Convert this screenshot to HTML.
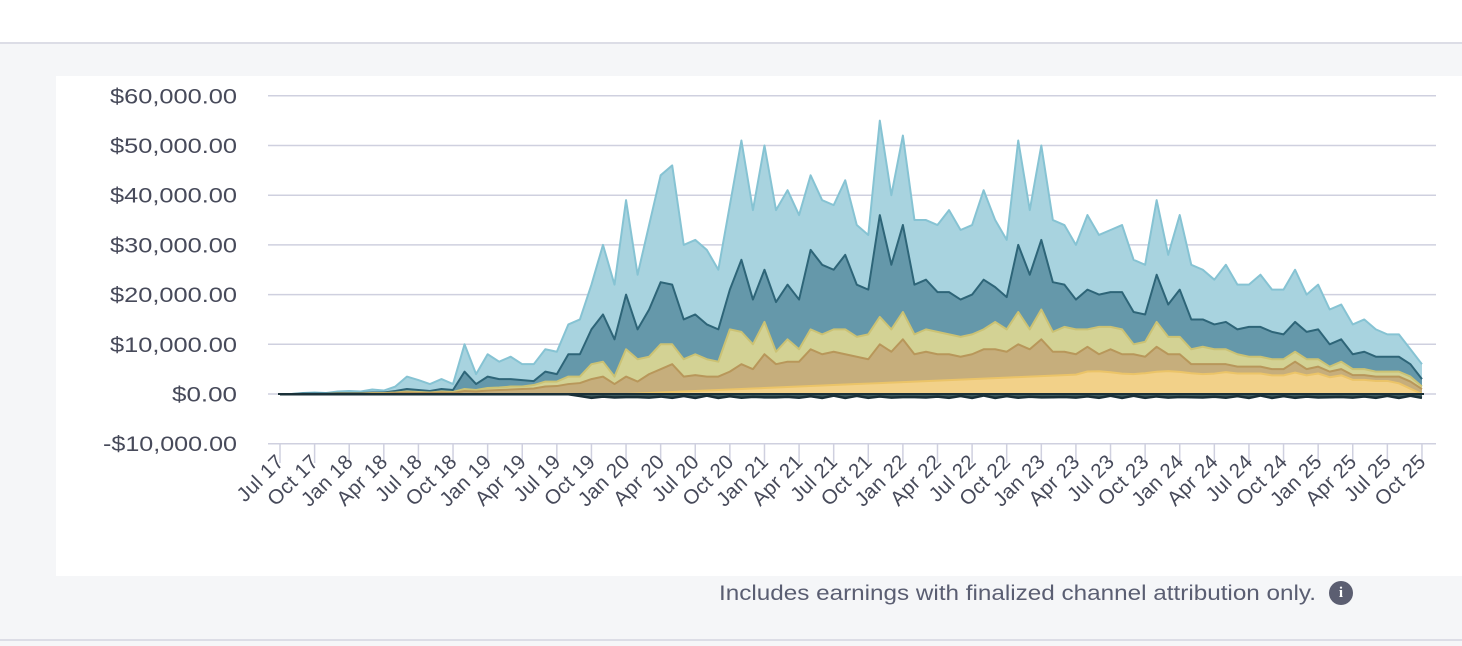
<!DOCTYPE html>
<html><head><meta charset="utf-8"><style>
body{margin:0;width:1462px;height:646px;overflow:hidden;background:#f5f6f8;font-family:"Liberation Sans",sans-serif;position:relative}
#top{position:absolute;left:0;top:0;width:1462px;height:42px;background:#fff;border-bottom:2px solid #dcdde6}
#panel{position:absolute;left:56px;top:76px;width:1406px;height:500px;background:#fff}
#bot{position:absolute;left:0;top:639px;width:1462px;height:2px;background:#dcdde6}
#info{position:absolute;left:1329px;top:581px;width:24px;height:24px;border-radius:50%;background:#5b5e71;color:#fff;font-size:15px;font-weight:bold;text-align:center;line-height:24px;font-family:"Liberation Serif",serif}
svg{position:absolute;left:0;top:0}
</style></head><body>
<div id="top"></div><div id="panel"></div><div id="bot"></div>
<div id="info">i</div>
<svg id="s" width="1462" height="646" xmlns="http://www.w3.org/2000/svg"></svg>
<script>
const T=[0,0,0.2,0.3,0.2,0.5,0.6,0.5,0.9,0.7,1.5,3.5,2.8,2,3,2,10,4,8,6.5,7.5,6,6,9,8.5,14,15,22,30,22,39,24,34,44,46,30,31,29,25,38,51,37,50,37,41,36,44,39,38,43,34,32,55,40,52,35,35,34,37,33,34,41,35,31,51,37,50,35,34,30,36,32,33,34,27,26,39,28,36,26,25,23,26,22,22,24,21,21,25,20,22,17,18,14,15,13,12,12,9,6];
const D=[0,0,0.1,0.1,0.1,0.2,0.2,0.2,0.3,0.3,0.6,1,0.8,0.6,1,0.8,4.5,2,3.5,3,3,2.8,2.6,4.5,4,8,8,13,16,11,20,13,17,22.5,22,15,16,14,13,21,27,19,25,18.5,22,19,29,26,25,28,22,21,36,26,34,22,23,20.5,20.5,19,20,23,21.5,19.5,30,24,31,22.5,22,19,21,20,20.5,20.5,16.5,16,24,18,21,15,15,14,14.5,13,13.5,13.5,12.5,12,14.5,12.5,13,10,11,8,8.5,7.5,7.5,7.5,6,3];
const Kman=[0,0,0,0,0,0.1,0.1,0.1,0.2,0.2,0.3,0.5,0.4,0.3,0.5,0.4,1,0.8,1.2,1.3,1.5,1.5,1.8,2.5,2.5,3.5,3.5,6,6.5,3.5,9,7,7.5,10,10,7,8,7,6.5,13,12.5,10,14.5,8.5,11,9,13,12,13,13,11.5,12,15.5,13,16.5,12,13,12.5,12,11.5,12,13,14.5,13,16.5,13,17,12.5,13.5,13,13,13.5,13.5,13,10,10.5,14.5,11.5,11.5,9,9.5,9,9,8,7.5,7.5,7,7,8.5,7,7,5.5,6.5,5,5,4.5,4.5,4.5,3.5,1.5];
const N=[0,0,0,0,0,0.05,0.05,0.05,0.1,0.1,0.2,0.3,0.2,0.2,0.3,0.2,0.6,0.5,0.7,0.8,0.9,1,1.1,1.5,1.6,2,2.2,3,3.5,2,3.5,2.5,4,5,6,3.5,3.8,3.5,3.5,4.5,6,5,8,6,6.5,6.5,9,8,8.5,8,7.5,7,10,8.5,11,8,8.5,8,8,7.5,8,9,9,8.5,10,9,11,8.5,8.5,8,9.5,8,9,8,8,7.5,9.5,8,8,6,6,6,6,5.5,5.5,5.5,5,5,6.5,5,5.5,4.5,5,3.8,3.8,3.5,3.5,3.5,2.5,1];
const G=N.map((v,i)=>{let g=i<30?0:i<70?(i-30)/40*4:i<95?4.3+0.3*Math.sin(i):4.3*(99-i)/4;return Math.min(g,v*0.75)});
const NEG=T.map((v,i)=>i<26?-0.05:-(0.3+0.5*Math.abs(Math.sin(i*1.7))));
const X=i=>280+i*11.535, Y=v=>394-v*4.97;
let s='';
for(let k=-1;k<=6;k++){let y=Y(k*10);s+=`<line x1="268" x2="1436" y1="${y}" y2="${y}" stroke="#cfd0df" stroke-width="1.5"/>`;
let lab=(k<0?'-$':'$')+Math.abs(k*10)+(k==0?'':',000')+'.00';
let w=k<0?134:k==0?65:127;
s+=`<text x="${237-w}" y="${y+7.5}" textLength="${w}" lengthAdjust="spacingAndGlyphs" font-size="21" fill="#474a5a">${lab}</text>`;}
function area(top,bot,fill,stroke){let p=top.map((v,i)=>X(i)+','+Y(v)).join(' ');let b=bot.map((v,i)=>X(i)+','+Y(v)).reverse().join(' ');
s+=`<polygon points="${p} ${b}" fill="${fill}"/><polyline points="${p}" fill="none" stroke="${stroke}" stroke-width="2" stroke-linejoin="round"/>`;}
const Z=T.map(()=>0);
area(T,D,'#a8d3df','#86c3d3');
area(D,Kman,'#6598aa','#2e6578');
area(Kman,N,'#d3d294','#cbc274');
area(N,G,'#c6ae7c','#b8975a');
area(G,Z,'#f2d189','#ebc468');
area(Z,NEG,'#3e5a5e','#1e3c44');
s+=`<polyline points="${NEG.map((v,i)=>X(i)+','+Y(v)).join(' ')}" fill="none" stroke="#1a3038" stroke-width="2.5"/>`;
s+=`<line x1="278" x2="1424" y1="394" y2="394" stroke="#1a3038" stroke-width="2"/>`;
const M=['Jul','Oct','Jan','Apr'];
for(let q=0;q<34;q++){let x=X(q*3);let yr=17+Math.floor((q+2)/4);let lab=M[q%4]+' '+yr;
s+=`<line x1="${x}" x2="${x}" y1="444" y2="463" stroke="#cfd0df" stroke-width="1.5"/>`;
s+=`<text transform="translate(${x+5},463) rotate(-45)" text-anchor="end" font-size="20.5" letter-spacing="0.3" fill="#474a5a">${lab}</text>`;}
s+=`<text x="719" y="600" textLength="597" lengthAdjust="spacingAndGlyphs" font-size="21" fill="#5a5e72">Includes earnings with finalized channel attribution only.</text>`;
document.getElementById('s').innerHTML=s;
</script>
</body></html>
